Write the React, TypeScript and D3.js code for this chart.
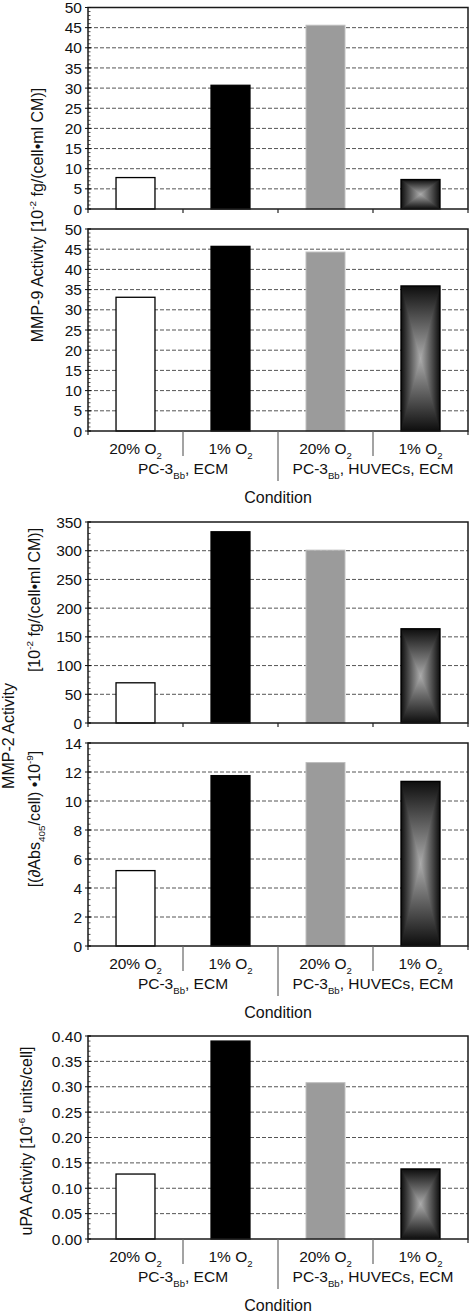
import React from "react";
import * as d3 from "d3";

// ---------- data ----------
const categories = ["20% O_{2}", "1% O_{2}", "20% O_{2}", "1% O_{2}"];
const groups = ["PC-3_{Bb}, ECM", "PC-3_{Bb}, HUVECs, ECM"];
const xTitle = "Condition";

const mmp9Top = [7.8, 30.7, 45.6, 7.3];
const mmp9Bottom = [33.1, 45.7, 44.3, 35.9];
const mmp2Top = [70, 333, 301, 164];
const mmp2Bottom = [5.2, 11.75, 12.65, 11.35];
const upaValues = [0.128, 0.39, 0.308, 0.138];

const mmp9Ticks = [0, 5, 10, 15, 20, 25, 30, 35, 40, 45, 50];
const mmp2TopTicks = [0, 50, 100, 150, 200, 250, 300, 350];
const mmp2BottomTicks = [0, 2, 4, 6, 8, 10, 12, 14];
const upaTicks = [0, 0.05, 0.1, 0.15, 0.2, 0.25, 0.3, 0.35, 0.4];

const mmp9Label = "MMP-9 Activity [10^{-2} fg/(cell•ml CM)]";
const mmp2Label = "MMP-2 Activity";
const mmp2TopUnit = "[10^{-2} fg/(cell•ml CM)]";
const mmp2BottomUnit = "[(∂Abs_{405}/cell) •10^{-9}]";
const upaLabel = "uPA Activity [10^{-6} units/cell]";

// ---------- layout ----------
const W = 470;
const H = 1314;
const FONT = "Arial, 'Liberation Sans', Helvetica, sans-serif";
const X0 = 88;
const X1 = 468;
const TICK_FS = 15.5;
const LABEL_FS = 16;

type Panel = {
  top: number;
  bottom: number;
  values: number[];
  ticks: number[];
  fmt: (v: number) => string;
  labels: boolean;
};

const panels: Panel[] = [
  { top: 7.5, bottom: 209, values: mmp9Top, ticks: mmp9Ticks, fmt: d3.format("d"), labels: false },
  { top: 229, bottom: 431, values: mmp9Bottom, ticks: mmp9Ticks, fmt: d3.format("d"), labels: true },
  { top: 522, bottom: 723, values: mmp2Top, ticks: mmp2TopTicks, fmt: d3.format("d"), labels: false },
  { top: 743, bottom: 946, values: mmp2Bottom, ticks: mmp2BottomTicks, fmt: d3.format("d"), labels: true },
  { top: 1036, bottom: 1239, values: upaValues, ticks: upaTicks, fmt: d3.format(".2f"), labels: true },
];

const fills = ["white", "black", "#9b9b9b", "gradient"];

function rich(text: string, fs: number) {
  const parts = text.split(/(_\{[^}]*\}|\^\{[^}]*\})/).filter((s) => s !== "");
  let cur = 0;
  return parts.map((p, i) => {
    let target = 0;
    let size = fs;
    let content = p;
    if (p.startsWith("_{")) {
      target = 0.3 * fs;
      size = 0.62 * fs;
      content = p.slice(2, -1);
    } else if (p.startsWith("^{")) {
      target = -0.42 * fs;
      size = 0.62 * fs;
      content = p.slice(2, -1);
    }
    const dy = target - cur;
    cur = target;
    return (
      <tspan key={i} dy={dy} fontSize={size}>
        {content}
      </tspan>
    );
  });
}

function GradBar({ x, y, w, h }: { x: number; y: number; w: number; h: number }) {
  const cx = x + w / 2;
  const cy = y + h / 2;
  const x2 = x + w;
  const y2 = y + h;
  return (
    <g>
      <rect x={x} y={y} width={w} height={h} fill="url(#gHoriz)" />
      <polygon points={`${x},${y} ${x2},${y} ${cx},${cy}`} fill="url(#gTop)" />
      <polygon points={`${x},${y2} ${x2},${y2} ${cx},${cy}`} fill="url(#gBot)" />
      <rect x={x} y={y} width={w} height={h} fill="none" stroke="#000" strokeWidth={1.4} />
    </g>
  );
}

function PanelView({ p }: { p: Panel }) {
  const xBand = d3
    .scaleBand<number>()
    .domain(d3.range(categories.length))
    .range([X0, X1])
    .paddingInner(0.59)
    .paddingOuter(0.295);
  const xCat = d3.scaleBand<number>().domain(d3.range(categories.length)).range([X0, X1]).padding(0);
  const xGroup = d3.scaleBand<number>().domain(d3.range(groups.length)).range([X0, X1]).padding(0);
  const maxV = p.ticks[p.ticks.length - 1];
  const y = d3.scaleLinear().domain([0, maxV]).range([p.bottom, p.top]);
  const step = p.ticks[1] - p.ticks[0];
  const minor = d3.range(0, maxV + step / 10, step / 5);
  const bounds = d3.range(categories.length + 1).map((i) =>
    i < categories.length ? xCat(i)! : X1
  );

  return (
    <g>
      {p.ticks.slice(1, -1).map((t) => (
        <line key={"g" + t} x1={X0} x2={X1} y1={y(t)} y2={y(t)} stroke="#555" strokeWidth={1} strokeDasharray="4,2" />
      ))}
      {p.values.map((v, i) => {
        const bx = xBand(i)!;
        const bw = xBand.bandwidth();
        const by = y(v);
        const bh = p.bottom - by;
        if (fills[i] === "gradient") return <GradBar key={i} x={bx} y={by} w={bw} h={bh} />;
        return (
          <rect
            key={i}
            x={bx}
            y={by}
            width={bw}
            height={bh}
            fill={fills[i]}
            stroke={i === 2 ? "#bdbdbd" : "#000"}
            strokeWidth={i === 2 ? 1 : 1.3}
          />
        );
      })}
      <rect x={X0} y={p.top} width={X1 - X0} height={p.bottom - p.top} fill="none" stroke="#1a1a1a" strokeWidth={1.5} />
      {minor.map((t, i) => (
        <line key={"m" + i} x1={X0} x2={X0 + 2.5} y1={y(t)} y2={y(t)} stroke="#222" strokeWidth={0.8} />
      ))}
      {p.ticks.map((t) => (
        <g key={"t" + t}>
          <line x1={X0 - 3} x2={X0 + 3} y1={y(t)} y2={y(t)} stroke="#111" strokeWidth={1} />
          <text x={82} y={y(t)} dy={0.36 * TICK_FS} textAnchor="end" fontSize={TICK_FS} fontFamily={FONT} fill="#111">
            {p.fmt(t)}
          </text>
        </g>
      ))}
      {bounds.map((bx, i) => {
        let len = 4;
        let col = "#222";
        if (p.labels && i > 0 && i < bounds.length - 1) {
          len = i === 2 ? 50 : 25;
          col = "#666";
        }
        return <line key={"b" + i} x1={bx} x2={bx} y1={p.bottom} y2={p.bottom + len} stroke={col} strokeWidth={1.2} />;
      })}
      {p.labels && (
        <g fontFamily={FONT} fill="#111" textAnchor="middle">
          {categories.map((c, i) => (
            <text key={"c" + i} x={xCat(i)! + xCat.bandwidth() / 2} y={p.bottom + 23} fontSize={TICK_FS}>
              {rich(c, TICK_FS)}
            </text>
          ))}
          {groups.map((g, i) => (
            <text key={"gr" + i} x={xGroup(i)! + xGroup.bandwidth() / 2} y={p.bottom + 43} fontSize={TICK_FS}>
              {rich(g, TICK_FS)}
            </text>
          ))}
          <text x={(X0 + X1) / 2} y={p.bottom + 72} fontSize={LABEL_FS}>
            {xTitle}
          </text>
        </g>
      )}
    </g>
  );
}

function YLabel({ text, x, cy }: { text: string; x: number; cy: number }) {
  return (
    <text
      transform={`translate(${x},${cy}) rotate(-90)`}
      textAnchor="middle"
      fontSize={LABEL_FS}
      fontFamily={FONT}
      fill="#111"
    >
      {rich(text, LABEL_FS)}
    </text>
  );
}

const stops = (
  <>
    <stop offset="0" stopColor="#0e0e0e" />
    <stop offset="0.5" stopColor="#5c5c5c" />
    <stop offset="1" stopColor="#ababab" />
  </>
);

export default function App() {
  return (
    <svg
      width={W}
      height={H}
      viewBox={`0 0 ${W} ${H}`}
      style={{ position: "absolute", left: 0, top: 0, background: "white" }}
    >
      <defs>
        <linearGradient id="gTop" x1="0" y1="0" x2="0" y2="1">
          {stops}
        </linearGradient>
        <linearGradient id="gBot" x1="0" y1="1" x2="0" y2="0">
          {stops}
        </linearGradient>
        <linearGradient id="gHoriz" x1="0" y1="0" x2="1" y2="0">
          <stop offset="0" stopColor="#0e0e0e" />
          <stop offset="0.25" stopColor="#5c5c5c" />
          <stop offset="0.5" stopColor="#ababab" />
          <stop offset="0.75" stopColor="#5c5c5c" />
          <stop offset="1" stopColor="#0e0e0e" />
        </linearGradient>
      </defs>
      <rect x={0} y={0} width={W} height={H} fill="white" />
      {panels.map((p, i) => (
        <PanelView key={i} p={p} />
      ))}
      <YLabel text={mmp9Label} x={43} cy={215} />
      <YLabel text={mmp2Label} x={14} cy={736} />
      <YLabel text={mmp2TopUnit} x={40} cy={600} />
      <YLabel text={mmp2BottomUnit} x={40} cy={819} />
      <YLabel text={upaLabel} x={32} cy={1141} />
    </svg>
  );
}
